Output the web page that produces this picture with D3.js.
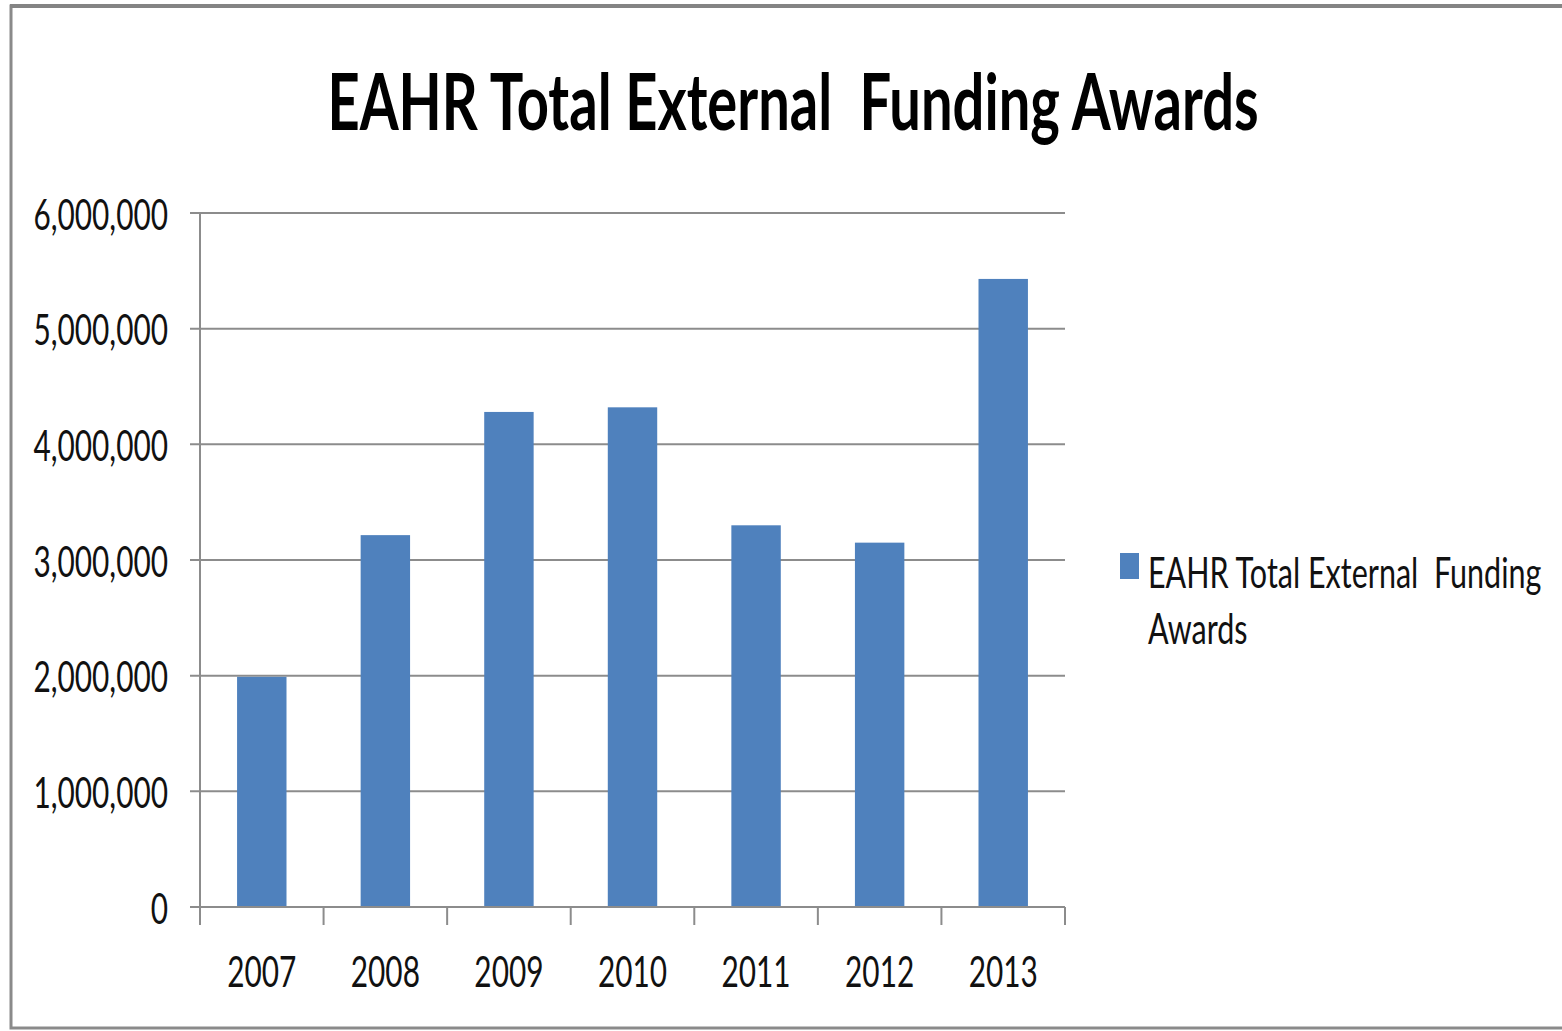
<!DOCTYPE html>
<html>
<head>
<meta charset="utf-8">
<script src="https://cdn.jsdelivr.net/npm/d3@7"></script>
<style>
  body { margin: 0; background: #fff; }
  text { font-family: Lato, "Open Sans", sans-serif; fill: #111; }
</style>
</head>
<body>
<div class="chart"></div>
<script>
// data
var years = ["2007", "2008", "2009", "2010", "2011", "2012", "2013"];
var awards = [1990000, 3215000, 4280000, 4320000, 3300000, 3150000, 5430000];
var yTicks = [0, 1000000, 2000000, 3000000, 4000000, 5000000, 6000000];
var chartTitle = "EAHR Total External\u00a0\u00a0Funding Awards";
var legendLines = ["EAHR Total External\u00a0\u00a0Funding", "Awards"];

var svgWidth = 1562;
var svgHeight = 1031;

var margin = { top: 213, right: 497, bottom: 124, left: 200 };
var width = svgWidth - margin.left - margin.right;
var height = svgHeight - margin.top - margin.bottom;

// the text in the picture is tall and narrow
var squeeze = 0.71;

var svg = d3.select(".chart")
  .append("svg")
  .attr("width", svgWidth)
  .attr("height", svgHeight);

// frame
svg.append("rect")
  .attr("x", 11)
  .attr("y", 6)
  .attr("width", 1620)
  .attr("height", 1022)
  .attr("fill", "#fff")
  .attr("stroke", "#8a8a8a")
  .attr("stroke-width", 3);
svg.append("line")
  .attr("x1", 10).attr("x2", svgWidth)
  .attr("y1", 6).attr("y2", 6)
  .attr("stroke", "#848484")
  .attr("stroke-width", 4);

svg.append("text")
  .attr("x", 793 / squeeze)
  .attr("y", 130)
  .attr("transform", `scale(${squeeze},1)`)
  .attr("text-anchor", "middle")
  .style("font-size", "79px")
  .style("font-weight", "700")
  .style("fill", "#000")
  .text(chartTitle);

var chartGroup = svg.append("g")
  .attr("transform", `translate(${margin.left}, ${margin.top})`);

var xBandScale = d3.scaleBand()
  .domain(years)
  .range([0, width])
  .paddingInner(0.6)
  .paddingOuter(0.3);

var yLinearScale = d3.scaleLinear()
  .domain([0, 6000000])
  .range([height, 0]);

// gridlines
chartGroup.append("g")
  .selectAll("line")
  .data(yTicks)
  .enter()
  .append("line")
  .attr("x1", -10)
  .attr("x2", width)
  .attr("y1", d => yLinearScale(d))
  .attr("y2", d => yLinearScale(d))
  .attr("stroke", "#8c8c8c")
  .attr("stroke-width", 2);

// y axis
var leftAxis = d3.axisLeft(yLinearScale)
  .tickValues(yTicks)
  .tickSize(0)
  .tickPadding(32)
  .tickFormat(d3.format(","));

var yAxis = chartGroup.append("g").call(leftAxis);
yAxis.select(".domain").remove();
yAxis.selectAll("text")
  .attr("x", -32 / squeeze)
  .attr("dy", null)
  .attr("y", 16)
  .attr("transform", `scale(${squeeze},1)`)
  .style("font-size", "42px")
  .style("font-family", "Lato, sans-serif")
  .style("fill", "#111");

chartGroup.append("line")
  .attr("x1", 0)
  .attr("x2", 0)
  .attr("y1", 0)
  .attr("y2", height + 18)
  .attr("stroke", "#8c8c8c")
  .attr("stroke-width", 2);

// bars
chartGroup.selectAll("rect.bar")
  .data(years)
  .enter()
  .append("rect")
  .attr("class", "bar")
  .attr("x", d => xBandScale(d))
  .attr("width", xBandScale.bandwidth())
  .attr("y", (d, i) => yLinearScale(awards[i]))
  .attr("height", (d, i) => height - yLinearScale(awards[i]))
  .attr("fill", "#4f81bd");

// x axis
var bottomAxis = d3.axisBottom(xBandScale).tickSize(0).tickPadding(0);
var xAxis = chartGroup.append("g")
  .attr("transform", `translate(0, ${height})`)
  .call(bottomAxis);
xAxis.select(".domain").remove();
xAxis.selectAll(".tick").each(function () {
  var t = d3.select(this);
  var tx = +t.attr("transform").match(/translate\(([-\d.]+)/)[1];
  t.attr("transform", `translate(${tx},0) scale(${squeeze},1)`);
});
xAxis.selectAll("text")
  .attr("y", 80)
  .attr("dy", null)
  .style("font-size", "42px")
  .style("font-family", "Lato, sans-serif")
  .style("fill", "#111");

chartGroup.append("line")
  .attr("x1", 0)
  .attr("x2", width)
  .attr("y1", height)
  .attr("y2", height)
  .attr("stroke", "#8c8c8c")
  .attr("stroke-width", 2);

var gap = (xBandScale.step() - xBandScale.bandwidth()) / 2;
var bounds = years.map(d => xBandScale(d) - gap).concat([width]);
chartGroup.append("g")
  .selectAll("line")
  .data(bounds)
  .enter()
  .append("line")
  .attr("x1", d => d)
  .attr("x2", d => d)
  .attr("y1", height)
  .attr("y2", height + 18)
  .attr("stroke", "#8c8c8c")
  .attr("stroke-width", 2);

// legend
var legend = svg.append("g").attr("transform", "translate(1120, 553)");
legend.append("rect")
  .attr("width", 19)
  .attr("height", 26)
  .attr("fill", "#4f81bd");

legend.selectAll("text")
  .data(legendLines)
  .enter()
  .append("text")
  .attr("x", 28 / squeeze)
  .attr("y", (d, i) => 35 + i * 56)
  .attr("transform", `scale(${squeeze},1)`)
  .style("font-size", "43px")
  .text(d => d);
</script>
</body>
</html>
